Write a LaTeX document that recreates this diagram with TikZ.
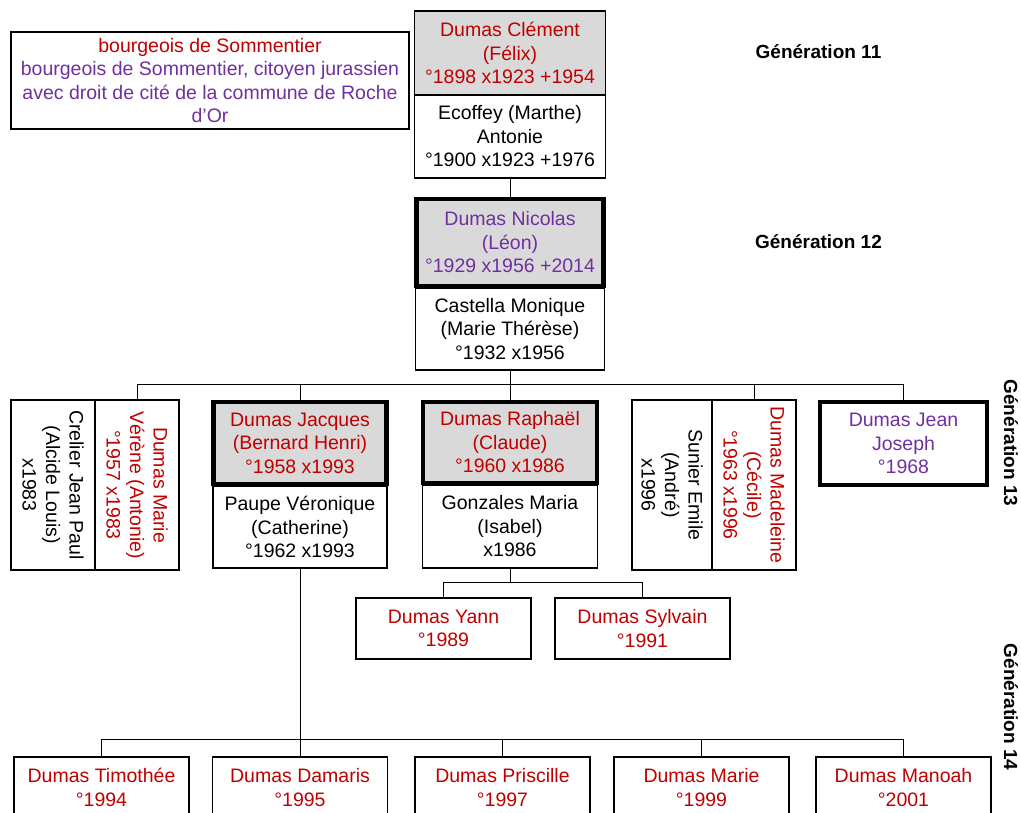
\documentclass[tikz,border=0pt]{standalone}
\usepackage{fontspec}
\usepackage{graphicx}
\setmainfont{Liberation Sans}
\definecolor{dred}{HTML}{C00000}
\definecolor{purp}{HTML}{7030A0}
\definecolor{gbox}{HTML}{D9D9D9}
\newcommand{\vtext}[1]{\rotatebox{-90}{\parbox{170pt}{\centering #1}}}
\begin{document}
\begin{tikzpicture}[x=1pt,y=-1pt,
  every node/.style={font=\fontsize{19.5}{23.5}\selectfont, inner sep=0pt, outer sep=0pt},
  part/.style={draw, line width=1.2pt, align=center, fill=white},
  person/.style={part, fill=gbox},
  thickbox/.style={line width=4.5pt},
  conn/.style={line width=1pt},
  gen/.style={font=\fontsize{19}{22}\selectfont\bfseries},
  w175/.style={minimum width=175pt},
]
\useasboundingbox (0,0) rectangle (1021,812);
\clip (0,0) rectangle (1021,812);

% ---- generation 11
\node[part, minimum width=398pt, minimum height=97pt] (note) at (210,80.5)
  {\textcolor{dred}{bourgeois de Sommentier}\\
   \textcolor{purp}{bourgeois de Sommentier, citoyen jurassien}\\
   \textcolor{purp}{avec droit de cité de la commune de Roche}\\
   \textcolor{purp}{d’Or}};
\node[person, text=dred, minimum width=191pt, minimum height=84pt] (clement) at (510,53)
  {Dumas Clément\\(Félix)\\°1898 x1923 +1954};
\node[part, minimum width=191pt, minimum height=83pt] (ecoffey) at (510,136.5)
  {Ecoffey (Marthe)\\Antonie\\°1900 x1923 +1976};

% ---- generation 12
\node[part, minimum width=189pt, minimum height=82pt] (castella) at (510,329)
  {Castella Monique\\(Marie Thérèse)\\°1932 x1956};
\node[person, thickbox, text=purp, minimum width=187pt, minimum height=87pt] (nicolas) at (510,242.5)
  {Dumas Nicolas\\(Léon)\\°1929 x1956 +2014};

% ---- generation 13
\node[part, minimum width=84pt, minimum height=168pt] (crelier) at (53,485)
  {\vtext{Crelier Jean Paul\\(Alcide Louis)\\x1983}};
\node[part, text=dred, minimum width=84pt, minimum height=168pt] (verene) at (137,485)
  {\vtext{Dumas Marie\\Vérène (Antonie)\\°1957 x1983}};

\node[part, minimum width=174pt, minimum height=82pt] (paupe) at (300,527)
  {Paupe Véronique\\(Catherine)\\°1962 x1993};
\node[person, thickbox, text=dred, minimum width=173pt, minimum height=82pt] (jacques) at (300,443)
  {Dumas Jacques\\(Bernard Henri)\\°1958 x1993};

\node[part, minimum width=175pt, minimum height=83pt] (gonzales) at (510,526.5)
  {Gonzales Maria\\(Isabel)\\x1986};
\node[person, thickbox, text=dred, minimum width=174pt, minimum height=81pt] (raphael) at (510,442.5)
  {Dumas Raphaël\\(Claude)\\°1960 x1986};

\node[part, minimum width=80pt, minimum height=168pt] (sunier) at (672,485)
  {\vtext{Sunier Emile\\(André)\\x1996}};
\node[part, text=dred, minimum width=84pt, minimum height=168pt] (madeleine) at (754,485)
  {\vtext{Dumas Madeleine\\(Cécile)\\°1963 x1996}};

\node[part, thickbox, text=purp, minimum width=167pt, minimum height=83pt] (jean) at (903.5,443.5)
  {Dumas Jean\\Joseph\\°1968};

% ---- generation 14
\node[part, w175, text=dred, minimum height=61pt] (yann) at (443.5,628.5) {Dumas Yann\\°1989};
\node[part, w175, text=dred, minimum height=61pt] (sylvain) at (642.5,628.5) {Dumas Sylvain\\°1991};

\node[part, w175, text=dred, minimum height=61pt] (timothee) at (101.5,787.5) {Dumas Timothée\\°1994};
\node[part, w175, text=dred, minimum height=61pt] (damaris) at (300,787.5) {Dumas Damaris\\°1995};
\node[part, w175, text=dred, minimum height=61pt] (priscille) at (502.5,787.5) {Dumas Priscille\\°1997};
\node[part, w175, text=dred, minimum height=61pt] (marie) at (701.5,787.5) {Dumas Marie\\°1999};
\node[part, w175, text=dred, minimum height=61pt] (manoah) at (903.5,787.5) {Dumas Manoah\\°2001};

% ---- generation labels
\node[gen] (g11) at (818.5,52) {Génération 11};
\node[gen] (g12) at (818.5,242) {Génération 12};
\node[gen, rotate=-90] (g13) at (1011,443) {Génération 13};
\node[gen, rotate=-90] (g14) at (1011,707) {Génération 14};

% ---- family lines
\coordinate (b13) at (0,384);
\coordinate (b14) at (0,739);
\coordinate (bR) at (0,582);

\draw[conn] (ecoffey.south) -- (nicolas.north);

\draw[conn] (castella.south) -- (castella.south |- b13);
\draw[conn] (verene.north |- b13) -- (jean.north |- b13);
\foreach \c in {verene, jacques, raphael, madeleine, jean}
  \draw[conn] (\c.north |- b13) -- (\c.north);

\draw[conn] (gonzales.south) -- (gonzales.south |- bR);
\draw[conn] (yann.north |- bR) -- (sylvain.north |- bR);
\foreach \c in {yann, sylvain}
  \draw[conn] (\c.north |- bR) -- (\c.north);

\draw[conn] (paupe.south) -- (paupe.south |- b14);
\draw[conn] (timothee.north |- b14) -- (manoah.north |- b14);
\foreach \c in {timothee, damaris, priscille, marie, manoah}
  \draw[conn] (\c.north |- b14) -- (\c.north);
\end{tikzpicture}
\end{document}
